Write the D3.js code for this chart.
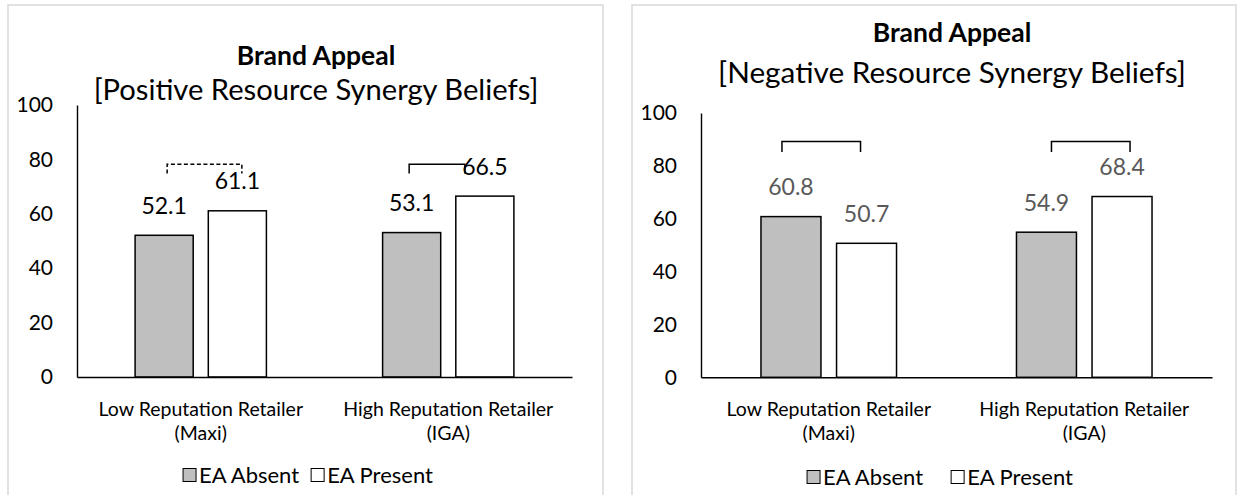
<!DOCTYPE html>
<html>
<head>
<meta charset="utf-8">
<script src="https://cdn.jsdelivr.net/npm/d3@7"></script>
<style>
  html, body { margin: 0; padding: 0; background: #fff; }
  svg { display: block; font-family: Lato, "Open Sans", sans-serif; }
</style>
</head>
<body>
<svg id="chart" width="1238" height="495"></svg>
<script>
// ---- data ----
const categoryNames = ["Low Reputation Retailer", "High Reputation Retailer"];
const categoryBrands = ["(Maxi)", "(IGA)"];
const seriesNames = ["EA Absent", "EA Present"];
const yTicks = [0, 20, 40, 60, 80, 100];

const titleText = "Brand Appeal";
const positiveSubtitle = "[Positive Resource Synergy Beliefs]";
const negativeSubtitle = "[Negative Resource Synergy Beliefs]";

const positiveAbsent = [52.1, 53.1];
const positivePresent = [61.1, 66.5];
const positiveSignificant = [false, true];

const negativeAbsent = [60.8, 54.9];
const negativePresent = [50.7, 68.4];
const negativeSignificant = [true, true];

// ---- layout of the two panels ----
const panels = [
  {
    subtitle: positiveSubtitle, absent: positiveAbsent, present: positivePresent,
    significant: positiveSignificant,
    frame: { x: 8, y: 5, w: 595, h: 500 },
    plot: { left: 77, right: 572, bottom: 377, top: 105 },
    titleX: 316, titleY: 65, subtitleY: 100, subtitleWidth: 445,
    valueColor: "#000",
    bracketLevel: 78.2, bracketDrop: 3.4,
    bracketNudge: [[3, 4.5], [-2.5, -20]],
    catY: 409, legendY: 475, legendX: 308, legendGap: 12
  },
  {
    subtitle: negativeSubtitle, absent: negativeAbsent, present: negativePresent,
    significant: negativeSignificant,
    frame: { x: 632, y: 5, w: 604, h: 500 },
    plot: { left: 701, right: 1212, bottom: 377.3, top: 113 },
    titleX: 952, titleY: 42, subtitleY: 83, subtitleWidth: 468,
    valueColor: "#595959",
    bracketLevel: 89.2, bracketDrop: 4,
    bracketNudge: [[-9, -6], [5, 8]],
    catY: 409, legendY: 477, legendX: 940, legendGap: 28
  }
];

const fills = { "EA Absent": "#bfbfbf", "EA Present": "#ffffff" };

const svg = d3.select("#chart");

panels.forEach(p => {
  const g = svg.append("g");

  // chart frame
  g.append("rect")
    .attr("x", p.frame.x).attr("y", p.frame.y)
    .attr("width", p.frame.w).attr("height", p.frame.h)
    .attr("fill", "#fff").attr("stroke", "#d9d9d9").attr("stroke-width", 1.5);

  // titles
  g.append("text")
    .attr("x", p.titleX).attr("y", p.titleY)
    .attr("text-anchor", "middle")
    .attr("font-weight", 700).attr("font-size", 26.5)
    .attr("fill", "#000")
    .text(titleText);

  const sub = g.append("text")
    .attr("x", p.titleX).attr("y", p.subtitleY)
    .attr("text-anchor", "middle")
    .attr("font-size", 27)
    .attr("fill", "#000")
    .text(p.subtitle);
  const subLen = sub.node().getComputedTextLength();
  sub.attr("font-size", 27 * p.subtitleWidth / subLen);

  // scales: two bars per category, gap width 200%, bars separated by 26% of a bar
  const x = d3.scaleBand().domain(categoryNames).range([p.plot.left, p.plot.right]).padding(0);
  const barW = x.bandwidth() / 4.26;
  const groupW = barW * 2.26;
  const xs = d3.scaleBand().domain(seriesNames)
    .range([-groupW / 2, groupW / 2])
    .paddingInner(0.26 / 1.26).paddingOuter(0);
  const y = d3.scaleLinear().domain([0, 100]).range([p.plot.bottom, p.plot.top]);

  // y axis
  const yAxis = g.append("g")
    .attr("transform", `translate(${p.plot.left},0)`)
    .call(d3.axisLeft(y).tickValues(yTicks).tickSize(0).tickSizeOuter(0).tickPadding(24));
  yAxis.select(".domain").attr("stroke", "#000").attr("stroke-width", 1.4);
  yAxis.selectAll("text")
    .attr("font-family", "Lato, 'Open Sans', sans-serif")
    .attr("font-size", 21).attr("fill", "#000");

  // bars
  const rows = categoryNames.map((c, i) => ({
    cat: c, i,
    values: [
      { s: seriesNames[0], v: p.absent[i] },
      { s: seriesNames[1], v: p.present[i] }
    ]
  }));

  const groups = g.selectAll(".grp").data(rows).join("g")
    .attr("transform", d => `translate(${x(d.cat) + x.bandwidth() / 2},0)`);

  groups.selectAll("rect").data(d => d.values).join("rect")
    .attr("x", d => xs(d.s)).attr("width", xs.bandwidth())
    .attr("y", d => y(d.v)).attr("height", d => y(0) - y(d.v))
    .attr("fill", d => fills[d.s])
    .attr("stroke", "#000").attr("stroke-width", 1.5);

  // x axis baseline
  const xAxis = g.append("g")
    .attr("transform", `translate(0,${p.plot.bottom})`)
    .call(d3.axisBottom(x).tickSize(0).tickSizeOuter(0).tickFormat(""));
  xAxis.select(".domain").attr("stroke", "#000").attr("stroke-width", 1.4);

  // value labels
  groups.selectAll(".val").data(d => d.values).join("text")
    .attr("class", "val")
    .attr("x", d => xs(d.s) + xs.bandwidth() / 2)
    .attr("y", d => y(d.v) - 21.5)
    .attr("text-anchor", "middle")
    .attr("font-size", 23)
    .attr("fill", p.valueColor)
    .text(d => d.v.toFixed(1));

  // comparison brackets (dashed when the difference is not significant)
  groups.each(function (d) {
    const sig = p.significant[d.i];
    const nudge = p.bracketNudge[d.i];
    const x1 = xs(seriesNames[0]) + xs.bandwidth() / 2 + nudge[0];
    const x2 = xs(seriesNames[1]) + xs.bandwidth() / 2 + nudge[1];
    const yTop = y(p.bracketLevel);
    const yBot = y(p.bracketLevel - p.bracketDrop);
    d3.select(this).append("path")
      .attr("d", `M${x1},${yBot}V${yTop}H${x2}V${yBot}`)
      .attr("fill", "none").attr("stroke", "#000").attr("stroke-width", 1.5)
      .attr("stroke-dasharray", sig ? null : "4,2.5");
  });

  // category labels (two lines)
  const cat = g.selectAll(".cat").data(rows).join("text")
    .attr("class", "cat")
    .attr("text-anchor", "middle")
    .attr("font-size", 19.5)
    .attr("fill", "#000");
  cat.append("tspan")
    .attr("x", d => x(d.cat) + x.bandwidth() / 2)
    .attr("y", p.catY).attr("dy", "0.35em")
    .text(d => d.cat);
  cat.append("tspan")
    .attr("x", d => x(d.cat) + x.bandwidth() / 2)
    .attr("y", p.catY + 24).attr("dy", "0.35em")
    .text(d => categoryBrands[d.i]);

  // legend
  const lg = g.append("g");
  let cx = 0;
  const box = 13;
  seriesNames.forEach((s, k) => {
    const item = lg.append("g").attr("transform", `translate(${cx},0)`);
    item.append("rect")
      .attr("x", 0).attr("y", -box / 2)
      .attr("width", box).attr("height", box)
      .attr("fill", fills[s]).attr("stroke", "#000").attr("stroke-width", 1);
    const t = item.append("text")
      .attr("x", box + 3).attr("y", 0).attr("dy", "0.35em")
      .attr("font-size", 22).attr("fill", "#000")
      .text(s);
    cx += box + 3 + t.node().getComputedTextLength() + (k === 0 ? p.legendGap : 0);
  });
  lg.attr("transform", `translate(${p.legendX - cx / 2},${p.legendY})`);
});
</script>
</body>
</html>
